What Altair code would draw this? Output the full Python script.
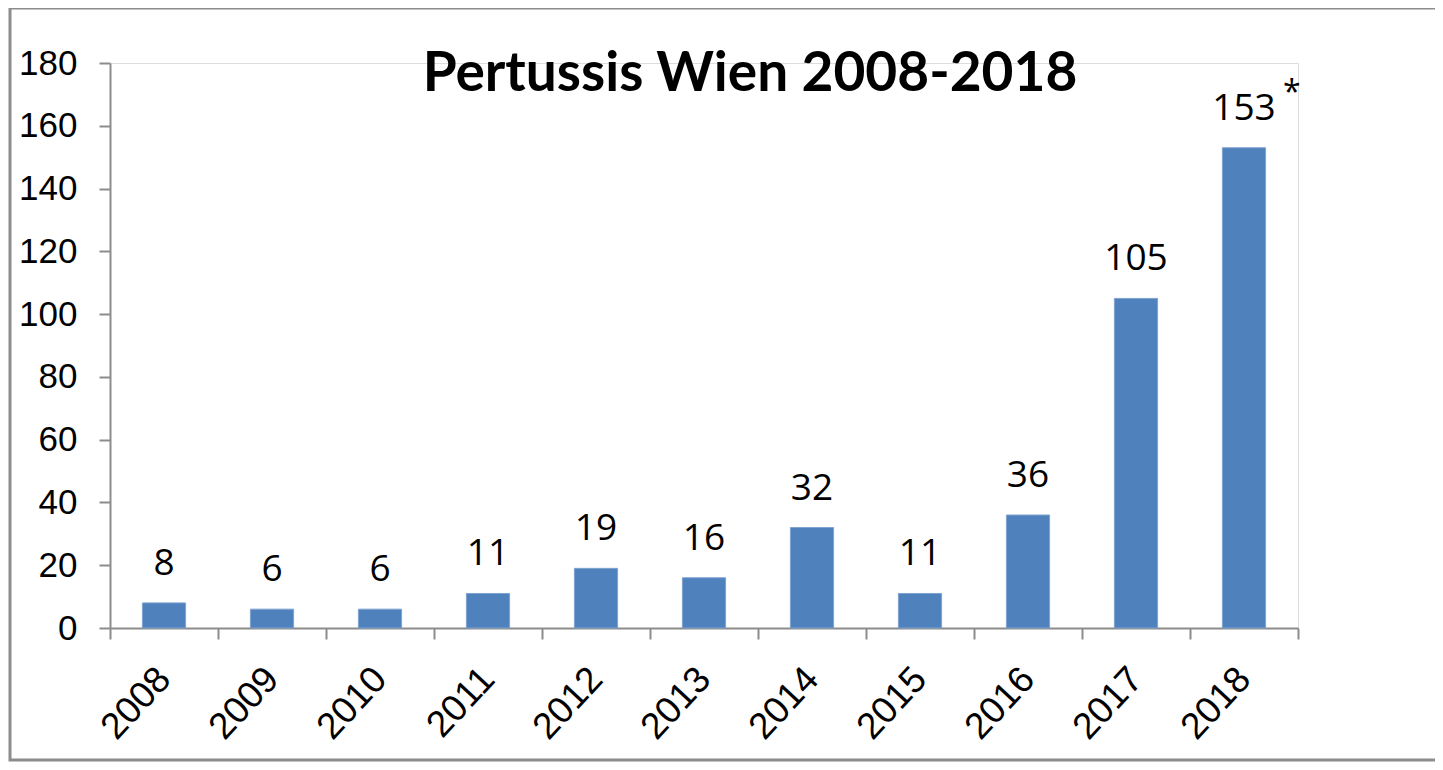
import altair as alt
import pandas as pd

years = ["2008", "2009", "2010", "2011", "2012", "2013", "2014", "2015", "2016", "2017", "2018"]
cases = [8, 6, 6, 11, 19, 16, 32, 11, 36, 105, 153]
notes = ["", "", "", "", "", "", "", "", "", "", "*"]
y_ticks = [0, 20, 40, 60, 80, 100, 120, 140, 160, 180]
title_text = ["Pertussis Wien 2008-2018"]

df = pd.DataFrame({"Jahr": years, "Faelle": cases, "Note": notes})

W, H = 1188, 565
AXIS = "#8c8c8c"
BAR = "#4F81BD"

x = alt.X(
    "Jahr:N", sort=years,
    scale=alt.Scale(paddingInner=0, paddingOuter=0),
    axis=alt.Axis(
        title=None, labelAngle=-47, labelAlign="right", labelBaseline="middle",
        labelFont="Liberation Sans", labelFontSize=37, labelColor="black",
        labelPadding=34, tickBand="extent", tickColor=AXIS, tickSize=11,
        tickWidth=2, domainColor=AXIS, domainWidth=2, grid=False,
    ),
)
y = alt.Y(
    "Faelle:Q",
    scale=alt.Scale(domain=[0, 180], nice=False),
    axis=alt.Axis(
        title=None, values=y_ticks, labelFont="Liberation Sans", labelFontSize=35,
        labelColor="black", labelPadding=22, tickColor=AXIS, tickSize=11,
        tickWidth=2, domainColor=AXIS, domainWidth=2, grid=False,
    ),
)

base = alt.Chart(df)

bars = base.mark_bar(
    color=BAR, stroke="#7fa3d0", strokeWidth=1, width=alt.RelativeBandSize(0.4)
).encode(x=x, y=y)

labels = base.mark_text(
    font="Open Sans", fontSize=37, color="black", baseline="alphabetic", dy=-28
).encode(x=x, y=y, text="Faelle:Q")

stars = base.mark_text(
    font="Open Sans", fontSize=32, color="black", baseline="alphabetic",
    align="left", dx=39, dy=-45
).encode(x=x, y=y, text="Note:N")

frame = alt.Chart(pd.DataFrame({"f": [0]})).mark_rect(
    fill=None, stroke=AXIS, strokeWidth=3
).encode(
    x=alt.value(-100), x2=alt.value(1400), y=alt.value(-55), y2=alt.value(697)
)

title = alt.Chart(pd.DataFrame({"t": title_text})).mark_text(
    font="Lato", fontSize=55, fontWeight="bold", color="black",
    align="center", baseline="alphabetic"
).encode(text="t:N", x=alt.value(640), y=alt.value(28))

chart = alt.layer(frame, bars, labels, stars, title).properties(
    width=W, height=H,
    autosize=alt.AutoSizeParams(type="none"),
    padding={"left": 102, "top": 55, "right": 137, "bottom": 134},
).configure_view(stroke=None).configure(background="white")

chart.save("out.html", embed_options={"renderer": "svg", "actions": False})
